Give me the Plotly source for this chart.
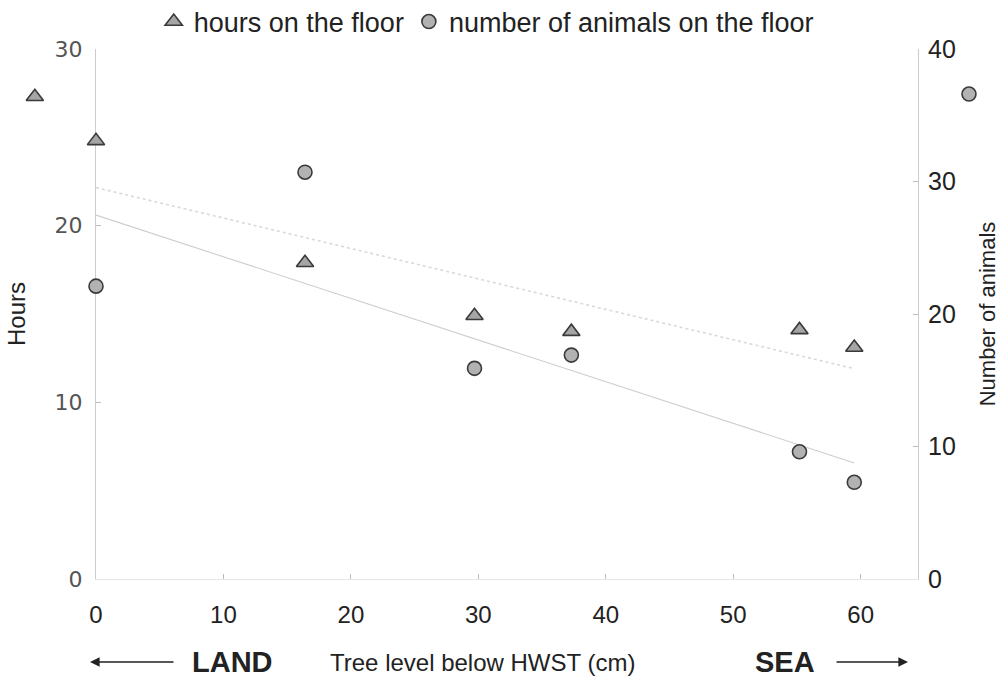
import numpy as np
import plotly.graph_objects as go

# Tree level below HWST (cm) and observations at each tree
depth_hours = [-4.8, 0, 16.4, 29.7, 37.3, 55.2, 59.5]
hours = [27.3, 24.8, 17.9, 14.9, 14.0, 14.1, 13.1]

depth_animals = [0, 16.4, 29.7, 37.3, 55.2, 59.5, 68.5]
animals = [22.1, 30.7, 15.9, 16.9, 9.6, 7.3, 36.6]

x_ticks = [0, 10, 20, 30, 40, 50, 60]
hours_ticks = [0, 10, 20, 30]
animal_ticks = [0, 10, 20, 30, 40]

SANS = "Liberation Sans, Arial, sans-serif"
DEJAVU = "DejaVu Sans, Verdana, sans-serif"

W, H = 1006, 677
M_L, M_R, M_T, M_B = 10, 10, 49, 98
AX_L, AX_R = 96, 918          # pixel columns of the two y axis lines
X_MAX = 64.5


def linear_trend(xs, ys, lo=0, hi=60):
    xs = np.asarray(xs, float)
    ys = np.asarray(ys, float)
    keep = (xs >= lo) & (xs <= hi)
    slope, icpt = np.polyfit(xs[keep], ys[keep], 1)
    xr = np.array([xs[keep].min(), xs[keep].max()])
    return xr, slope * xr + icpt


hx, hy = linear_trend(depth_hours, hours)
ax_, ay_ = linear_trend(depth_animals, animals)

# framed axis covers AX_L..AX_R; a hidden full-width axis with the same
# scale carries the markers so that points beyond the frame stay visible
plot_w = W - M_L - M_R
px_per_unit = (AX_R - AX_L) / X_MAX
dom = [(AX_L - M_L) / plot_w, (AX_R - M_L) / plot_w]
wide_range = [(M_L - AX_L) / px_per_unit, (W - M_R - AX_L) / px_per_unit]

fig = go.Figure()

# trend lines live on the framed axis
fig.add_trace(go.Scatter(x=hx, y=hy, mode="lines", xaxis="x", yaxis="y",
                         line=dict(color="#d9d9d9", width=1.6, dash="dot"),
                         showlegend=False, hoverinfo="skip"))
fig.add_trace(go.Scatter(x=ax_, y=ay_, mode="lines", xaxis="x", yaxis="y2",
                         line=dict(color="#cdcdcd", width=1.1),
                         showlegend=False, hoverinfo="skip"))

fig.add_trace(go.Scatter(
    x=depth_hours, y=hours, mode="markers", name="hours on the floor",
    xaxis="x2", yaxis="y",
    marker=dict(symbol="triangle-up", size=15, color="#a5a5a5",
                line=dict(color="#3a3a3a", width=1.6))))
fig.add_trace(go.Scatter(
    x=depth_animals, y=animals, mode="markers",
    name="number of animals on the floor",
    xaxis="x2", yaxis="y2",
    marker=dict(symbol="circle", size=14, color="#b2b2b2",
                line=dict(color="#3a3a3a", width=1.6))))

frame = dict(showgrid=False, zeroline=False, showline=True, linewidth=1,
             ticks="inside", ticklen=5, tickcolor="#bbbbbb")

fig.update_layout(
    width=W, height=H,
    margin=dict(l=M_L, r=M_R, t=M_T, b=M_B, autoexpand=False),
    paper_bgcolor="white", plot_bgcolor="rgba(0,0,0,0)",
    xaxis=dict(domain=dom, range=[0, X_MAX], tickvals=x_ticks, anchor="y",
               ticklabelstandoff=14, linecolor="#e6e6e6",
               tickfont=dict(family=SANS, size=24, color="#222222"), **frame),
    xaxis2=dict(domain=[0, 1], range=wide_range, anchor="y", visible=False),
    yaxis=dict(range=[0, 30], tickvals=hours_ticks, anchor="x",
               linecolor="#cccccc",
               tickfont=dict(family=DEJAVU, size=22, color="#555555"),
               title=dict(text="Hours", standoff=22,
                          font=dict(family=SANS, size=24, color="#222222")),
               ticklabelstandoff=8, **frame),
    yaxis2=dict(range=[0, 40], tickvals=animal_ticks, overlaying="y",
                side="right", anchor="x", linecolor="#cccccc",
                tickfont=dict(family=SANS, size=25, color="#222222"),
                title=dict(text="Number of animals", standoff=24,
                           font=dict(family=SANS, size=22, color="#222222")),
                ticklabelstandoff=4, **frame),
    legend=dict(orientation="h", x=0.483, xanchor="center",
                y=1 + (M_T - 22) / (H - M_T - M_B), yanchor="middle",
                font=dict(family=SANS, size=27, color="#222222"),
                itemwidth=30, bgcolor="rgba(0,0,0,0)"),
)

# direction labels below the x axis
plot_h = H - M_T - M_B
yb = -(662 - (H - M_B)) / plot_h


def xpaper(px):
    return (px - M_L) / plot_w


fig.add_annotation(x=xpaper(232), y=yb, xref="paper", yref="paper",
                   text="<b>LAND</b>", showarrow=False,
                   xanchor="center", yanchor="middle",
                   font=dict(family=SANS, size=29, color="#222222"))
fig.add_annotation(x=xpaper(482), y=yb, xref="paper", yref="paper",
                   text="Tree level below HWST (cm)", showarrow=False,
                   xanchor="center", yanchor="middle",
                   font=dict(family=SANS, size=24, color="#222222"))
fig.add_annotation(x=xpaper(785), y=yb, xref="paper", yref="paper",
                   text="<b>SEA</b>", showarrow=False,
                   xanchor="center", yanchor="middle",
                   font=dict(family=SANS, size=29, color="#222222"))
fig.add_annotation(x=xpaper(90), y=yb, xref="paper", yref="paper", ax=85, ay=0,
                   text="", showarrow=True, arrowhead=2, arrowsize=1.2,
                   arrowwidth=1.6, arrowcolor="#222222")
fig.add_annotation(x=xpaper(908), y=yb, xref="paper", yref="paper", ax=-73, ay=0,
                   text="", showarrow=True, arrowhead=2, arrowsize=1.2,
                   arrowwidth=1.6, arrowcolor="#222222")

fig.write_html("out.html")
